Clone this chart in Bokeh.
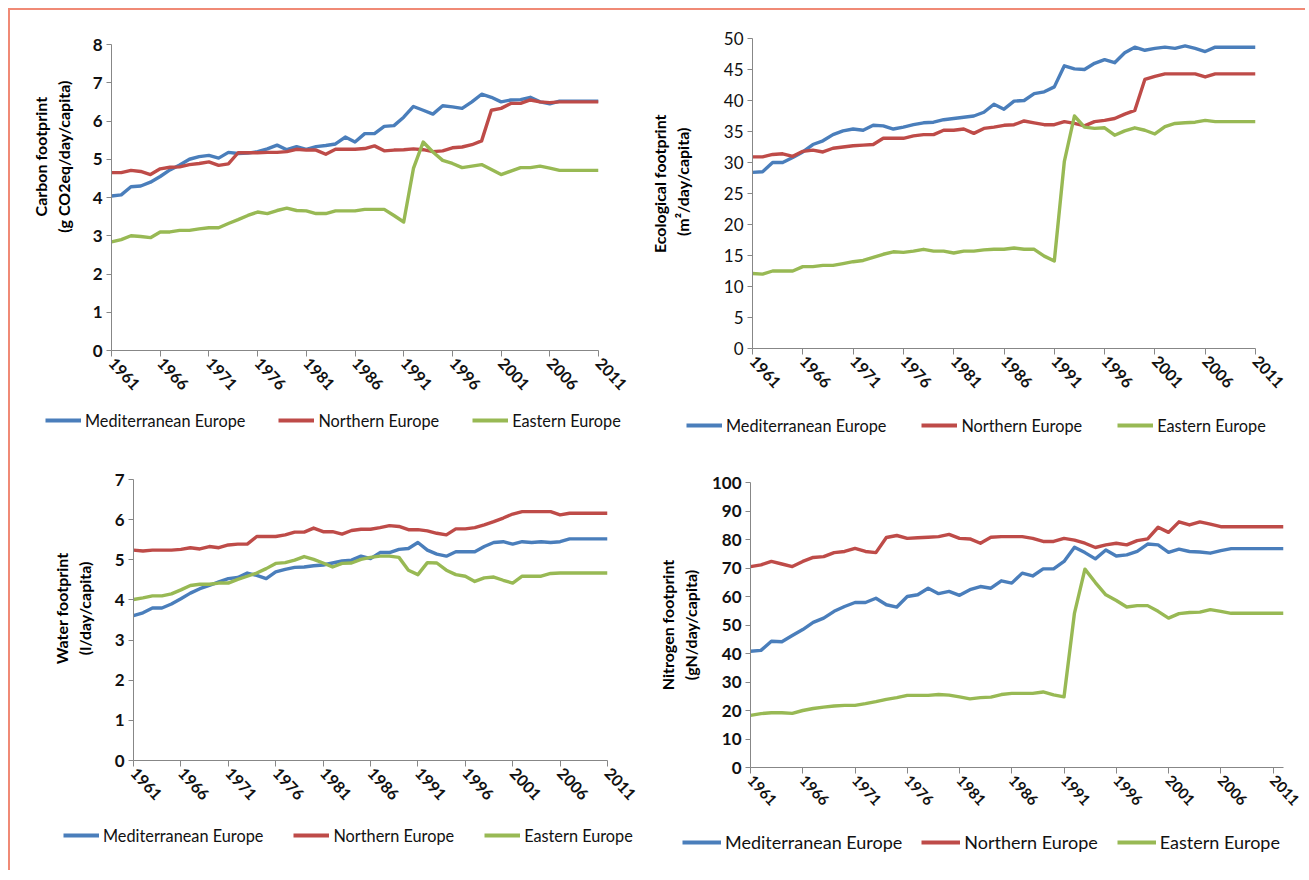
from bokeh.plotting import figure
from bokeh.models import Range1d, FixedTicker, Legend, LegendItem
from bokeh.layouts import column, row
from bokeh.embed import file_html
from bokeh.resources import INLINE

years = list(range(1961, 2012))
years_n = list(range(1961, 2013))
series_names = ["Mediterranean Europe", "Northern Europe", "Eastern Europe"]
x_tick_years = list(range(1961, 2012, 5))

carbon_med = [4.04, 4.07, 4.28, 4.30, 4.40, 4.55, 4.72, 4.85, 5.00, 5.07,
              5.10, 5.03, 5.18, 5.15, 5.16, 5.20, 5.27, 5.37, 5.25, 5.33,
              5.26, 5.33, 5.36, 5.40, 5.58, 5.45, 5.67, 5.67, 5.86, 5.88,
              6.10, 6.38, 6.28, 6.18, 6.40, 6.37, 6.33, 6.50, 6.70, 6.62,
              6.50, 6.55, 6.56, 6.62, 6.50, 6.45, 6.52, 6.52, 6.52, 6.52, 6.52]
carbon_north = [4.65, 4.65, 4.71, 4.68, 4.60, 4.75, 4.79, 4.80, 4.86, 4.89,
                4.93, 4.84, 4.88, 5.17, 5.17, 5.17, 5.18, 5.18, 5.20, 5.26,
                5.24, 5.24, 5.13, 5.26, 5.26, 5.26, 5.28, 5.35, 5.22, 5.24,
                5.25, 5.27, 5.25, 5.20, 5.22, 5.30, 5.32, 5.38, 5.48, 6.28,
                6.33, 6.46, 6.46, 6.55, 6.50, 6.48, 6.50, 6.50, 6.50, 6.50, 6.50]
carbon_east = [2.84, 2.90, 3.00, 2.98, 2.95, 3.10, 3.10, 3.14, 3.14, 3.18,
               3.21, 3.21, 3.32, 3.42, 3.53, 3.62, 3.58, 3.66, 3.72, 3.66,
               3.65, 3.58, 3.58, 3.65, 3.65, 3.65, 3.69, 3.69, 3.69, 3.53,
               3.36, 4.76, 5.45, 5.19, 4.97, 4.89, 4.78, 4.82, 4.86, 4.73,
               4.60, 4.69, 4.78, 4.78, 4.82, 4.77, 4.71, 4.71, 4.71, 4.71, 4.71]

eco_med = [28.4, 28.5, 30.0, 30.0, 30.8, 31.7, 32.9, 33.5, 34.5, 35.1,
           35.4, 35.2, 36.0, 35.9, 35.4, 35.7, 36.1, 36.4, 36.5, 36.9,
           37.1, 37.3, 37.5, 38.1, 39.4, 38.6, 39.9, 40.0, 41.1, 41.4,
           42.2, 45.6, 45.1, 45.0, 46.0, 46.6, 46.1, 47.7, 48.6, 48.1,
           48.4, 48.6, 48.4, 48.8, 48.4, 47.9, 48.6, 48.6, 48.6, 48.6, 48.6]
eco_north = [30.9, 30.9, 31.3, 31.4, 31.0, 31.8, 32.0, 31.7, 32.3, 32.5,
             32.7, 32.8, 32.9, 33.9, 33.9, 33.9, 34.3, 34.5, 34.5, 35.2,
             35.2, 35.4, 34.7, 35.5, 35.7, 36.0, 36.1, 36.7, 36.4, 36.1,
             36.1, 36.6, 36.3, 35.9, 36.6, 36.8, 37.1, 37.8, 38.4, 43.4,
             43.9, 44.3, 44.3, 44.3, 44.3, 43.8, 44.3, 44.3, 44.3, 44.3, 44.3]
eco_east = [12.1, 12.0, 12.5, 12.5, 12.5, 13.2, 13.2, 13.4, 13.4, 13.7,
            14.0, 14.2, 14.7, 15.2, 15.6, 15.5, 15.7, 16.0, 15.7, 15.7,
            15.4, 15.7, 15.7, 15.9, 16.0, 16.0, 16.2, 16.0, 16.0, 14.9,
            14.1, 30.2, 37.5, 35.7, 35.5, 35.6, 34.4, 35.1, 35.6, 35.2,
            34.6, 35.8, 36.3, 36.4, 36.5, 36.8, 36.6, 36.6, 36.6, 36.6, 36.6]

water_med = [3.61, 3.68, 3.80, 3.80, 3.90, 4.03, 4.17, 4.28, 4.36, 4.45,
             4.53, 4.56, 4.67, 4.61, 4.53, 4.70, 4.76, 4.81, 4.82, 4.85,
             4.87, 4.92, 4.97, 4.99, 5.09, 5.03, 5.18, 5.18, 5.26, 5.28,
             5.43, 5.24, 5.14, 5.09, 5.20, 5.20, 5.20, 5.33, 5.43, 5.45,
             5.39, 5.45, 5.43, 5.45, 5.43, 5.45, 5.52, 5.52, 5.52, 5.52, 5.52]
water_north = [5.24, 5.22, 5.24, 5.24, 5.24, 5.26, 5.30, 5.27, 5.33, 5.30,
               5.37, 5.39, 5.39, 5.58, 5.58, 5.58, 5.62, 5.69, 5.69, 5.79,
               5.70, 5.70, 5.64, 5.73, 5.76, 5.76, 5.80, 5.85, 5.83, 5.75,
               5.75, 5.72, 5.66, 5.62, 5.77, 5.77, 5.80, 5.87, 5.95, 6.04,
               6.14, 6.20, 6.20, 6.20, 6.20, 6.12, 6.16, 6.16, 6.16, 6.16, 6.16]
water_east = [4.01, 4.05, 4.10, 4.10, 4.15, 4.25, 4.36, 4.39, 4.39, 4.42,
              4.42, 4.51, 4.59, 4.67, 4.78, 4.91, 4.93, 4.99, 5.08, 5.01,
              4.92, 4.82, 4.91, 4.92, 5.01, 5.06, 5.09, 5.09, 5.06, 4.74,
              4.63, 4.93, 4.92, 4.74, 4.63, 4.59, 4.46, 4.55, 4.57, 4.49,
              4.42, 4.59, 4.59, 4.59, 4.66, 4.67, 4.67, 4.67, 4.67, 4.67, 4.67]

nitro_med = [40.8, 41.1, 44.3, 44.1, 46.3, 48.4, 50.9, 52.4, 54.8, 56.5,
             57.9, 57.9, 59.4, 57.1, 56.3, 60.0, 60.6, 62.9, 61.0, 61.8,
             60.4, 62.4, 63.5, 62.9, 65.5, 64.7, 68.2, 67.2, 69.7, 69.7,
             72.3, 77.3, 75.4, 73.2, 76.3, 74.2, 74.6, 75.8, 78.4, 78.1,
             75.5, 76.6, 75.8, 75.6, 75.2, 76.1, 76.8, 76.8, 76.8, 76.8, 76.8, 76.8]
nitro_north = [70.5, 71.1, 72.3, 71.4, 70.5, 72.3, 73.7, 74.0, 75.4, 75.8,
               76.9, 75.8, 75.4, 80.7, 81.4, 80.4, 80.6, 80.8, 81.0, 81.8,
               80.4, 80.2, 78.7, 80.8, 81.0, 81.0, 81.0, 80.4, 79.3, 79.3,
               80.4, 79.8, 78.7, 77.2, 78.1, 78.7, 78.1, 79.6, 80.2, 84.3,
               82.5, 86.2, 85.1, 86.2, 85.4, 84.5, 84.5, 84.5, 84.5, 84.5, 84.5, 84.5]
nitro_east = [18.3, 18.9, 19.2, 19.2, 19.0, 20.0, 20.7, 21.2, 21.6, 21.8,
              21.8, 22.4, 23.1, 23.9, 24.5, 25.3, 25.3, 25.3, 25.6, 25.4,
              24.8, 24.1, 24.5, 24.7, 25.6, 26.0, 26.0, 26.0, 26.5, 25.5,
              24.8, 54.2, 69.6, 64.9, 60.6, 58.6, 56.3, 56.8, 56.8, 54.8,
              52.4, 54.0, 54.4, 54.5, 55.4, 54.8, 54.1, 54.1, 54.1, 54.1, 54.1, 54.1]

BLUE = "#4A7EBB"
RED = "#BE4B48"
GREEN = "#98B954"
COLORS = (BLUE, RED, GREEN)
AXIS = "#878787"
FONT = "Lato"
NB = "\u00a0"


def panel(x, med, north, east, ymax, yticks, ylabel, width, height,
          left, right, top, frame_h, gap, leg_x, leg_size,
          label_standoff, tick_style="bold", leg_spacing=33, glyph_w=36,
          xlab_size="16px"):
    plot_h = top + frame_h + gap
    p = figure(width=width, height=plot_h,
               x_range=Range1d(x[0], x[-1]), y_range=Range1d(0, ymax),
               output_backend="svg", toolbar_location=None,
               min_border_left=left, min_border_right=right,
               min_border_top=top, min_border_bottom=gap)
    p.frame_align = False
    p.outline_line_color = None
    p.xgrid.visible = False
    p.ygrid.visible = False
    for ys, c in zip((med, north, east), COLORS):
        p.line(x, ys, line_color=c, line_width=3.4, line_join="round")
    # x axis
    xa = p.xaxis[0]
    xa.ticker = FixedTicker(ticks=x_tick_years, minor_ticks=[])
    xa.major_label_orientation = -0.82
    xa.major_label_text_font = FONT
    xa.major_label_text_font_style = "bold"
    xa.major_label_text_font_size = xlab_size
    xa.major_label_text_color = "#111111"
    xa.major_label_standoff = 4
    xa.axis_line_color = AXIS
    xa.major_tick_line_color = AXIS
    xa.major_tick_out = 6
    xa.major_tick_in = 0
    xa.minor_tick_line_color = None
    # y axis
    ya = p.yaxis[0]
    ya.ticker = FixedTicker(ticks=yticks, minor_ticks=[])
    ya.major_label_text_font = FONT
    ya.major_label_text_font_style = tick_style
    ya.major_label_text_font_size = "17px"
    ya.major_label_text_color = "#111111"
    ya.major_label_standoff = 4
    ya.axis_line_color = AXIS
    ya.major_tick_line_color = AXIS
    ya.major_tick_out = 5
    ya.major_tick_in = 0
    ya.minor_tick_line_color = None
    ya.axis_label = ylabel
    ya.axis_label_text_font = FONT
    ya.axis_label_text_font_style = "bold"
    ya.axis_label_text_font_size = "16px"
    ya.axis_label_text_color = "#000000"
    ya.axis_label_standoff = label_standoff

    # legend strip below the plot; its proxy lines hold the series data but
    # lie outside the strip's (0..1) ranges, so only the legend shows
    leg_h = height - plot_h
    lf = figure(width=width, height=leg_h, x_range=Range1d(0, 1),
                y_range=Range1d(0, 1), output_backend="svg",
                toolbar_location=None, x_axis_location=None,
                y_axis_location=None, min_border=0)
    lf.frame_align = False
    lf.outline_line_color = None
    lf.xgrid.visible = False
    lf.ygrid.visible = False
    rs = [lf.line(x, ys, line_color=c, line_width=4)
          for ys, c in zip((med, north, east), COLORS)]
    legend = Legend(items=[LegendItem(label=n, renderers=[r])
                           for n, r in zip(series_names, rs)],
                    orientation="horizontal",
                    location=(leg_x, leg_h - 22),
                    glyph_width=glyph_w, glyph_height=20, label_height=20,
                    label_standoff=4, spacing=leg_spacing, padding=0, margin=0,
                    border_line_color=None, background_fill_alpha=0,
                    label_text_font=FONT, label_text_font_size=leg_size,
                    label_text_color="#111111")
    lf.add_layout(legend)
    return column(p, lf, spacing=0)


pad = NB * 21
pad_s = NB * 6
p1 = panel(years, carbon_med, carbon_north, carbon_east, 8, list(range(0, 9)),
           pad + "Carbon footprint\n" + pad + "(g CO2eq/day/capita)", 636, 430,
           101, 48, 34, 306, 58, 35, "16.3px", 17)
p2 = panel(years, eco_med, eco_north, eco_east, 50, list(range(0, 51, 5)),
           pad_s + "Ecological  footprint\n" + pad_s + "(m\u00b2/day/capita)", 654, 430,
           102, 45, 28, 310, 65, 40, "16.3px", 29, tick_style="normal",
           leg_spacing=35)
p3 = panel(years, water_med, water_north, water_east, 7, list(range(0, 8)),
           pad_s + "Water footprint\n" + pad_s + "(l/day/capita)", 636, 430,
           123, 39, 39, 281, 63, 53, "16.3px", 18, leg_spacing=30)
p4 = panel(years_n, nitro_med, nitro_north, nitro_east, 100, list(range(0, 101, 10)),
           "Nitrogen footprint\n(gN/day/capita)", 659, 430,
           104, 22, 42, 285, 64, 36, "18px", 9, leg_spacing=19, glyph_w=39,
           xlab_size="15px")

layout = column(row(p1, p2), row(p3, p4),
                styles={"border-top": "2px solid #F08A76",
                        "border-left": "2px solid #F08A76",
                        "margin-left": "8px", "margin-top": "8px"})

open("out.html", "w").write(file_html(layout, INLINE))
